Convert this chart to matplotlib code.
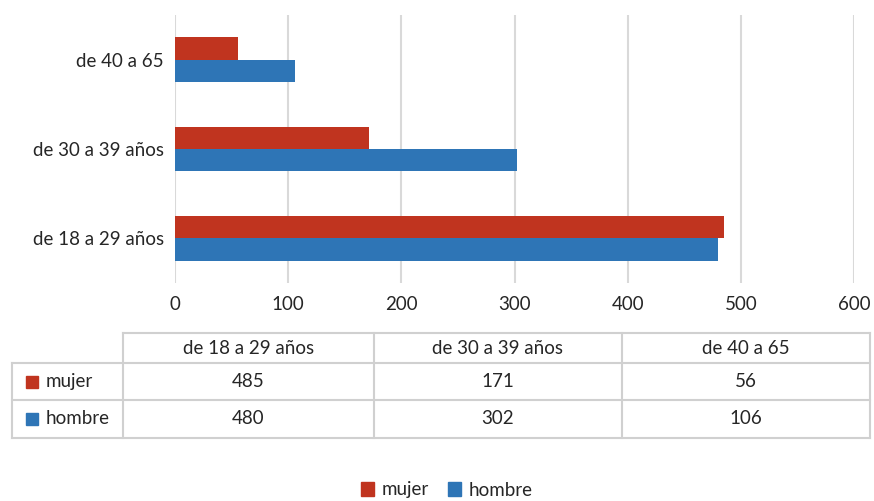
import matplotlib.pyplot as plt
import numpy as np
from matplotlib.patches import Patch

plt.rcParams['font.family'] = ['Lato', 'DejaVu Sans']

categories = ['de 18 a 29 años', 'de 30 a 39 años', 'de 40 a 65']
mujer = [485, 171, 56]
hombre = [480, 302, 106]
series_names = ['mujer', 'hombre']
xticks = [0, 100, 200, 300, 400, 500, 600]

red = '#C0341F'
blue = '#2E75B6'
grid_col = '#D9D9D9'
text_col = '#262626'

fig = plt.figure(figsize=(8.74, 5.01), dpi=100)
ax = fig.add_axes([175 / 874, 1 - 283 / 501, 679 / 874, 268 / 501])

# top category in the chart is the last one in the list
pos = np.arange(len(categories))[::-1]
h = 0.25
ax.barh(pos - h / 2, mujer, height=h, color=red, zorder=3)
ax.barh(pos + h / 2, hombre, height=h, color=blue, zorder=3)
ax.set_ylim(2.5, -0.5)
ax.set_yticks(pos)
ax.set_yticklabels(categories)
ax.set_xlim(0, 600)
ax.set_xticks(xticks)
ax.grid(axis='x', color=grid_col, linewidth=1.5, zorder=0)
for s in ax.spines.values():
    s.set_visible(False)
ax.tick_params(length=0, labelsize=13.5, colors=text_col)
ax.tick_params(axis='y', pad=8)
ax.tick_params(axis='x', pad=9)

# data table underneath, drawn in pixel coordinates
tab = fig.add_axes([0, 0, 1, 1])
tab.set_xlim(0, 874)
tab.set_ylim(501, 0)
tab.axis('off')
lc = '#D0D0D0'
col_x = [123, 374, 622, 870]
row_y = [333, 363, 400, 438]
tab.plot([123, 870], [333, 333], color=lc, lw=1.5)
for y in row_y[1:]:
    tab.plot([12, 870], [y, y], color=lc, lw=1.5)
tab.plot([12, 12], [363, 438], color=lc, lw=1.5)
for x in col_x:
    tab.plot([x, x], [333, 438], color=lc, lw=1.5)

for i, c in enumerate(categories):
    cx = (col_x[i] + col_x[i + 1]) / 2
    tab.text(cx, (row_y[0] + row_y[1]) / 2, c, ha='center', va='center', fontsize=13.5, color=text_col)
    tab.text(cx, (row_y[1] + row_y[2]) / 2, str(mujer[i]), ha='center', va='center', fontsize=13.5, color=text_col)
    tab.text(cx, (row_y[2] + row_y[3]) / 2, str(hombre[i]), ha='center', va='center', fontsize=13.5, color=text_col)

for j, (name, col) in enumerate(zip(series_names, [red, blue])):
    yc = (row_y[j + 1] + row_y[j + 2]) / 2
    tab.add_patch(plt.Rectangle((26, yc - 6), 12, 12, color=col))
    tab.text(46, yc, name, ha='left', va='center', fontsize=13.5, color=text_col)

handles = [Patch(color=red), Patch(color=blue)]
fig.legend(handles, series_names, loc='center', bbox_to_anchor=(447 / 874, 1 - 490 / 501),
           ncol=2, frameon=False, fontsize=13.5, handlelength=0.7, handleheight=0.7,
           handletextpad=0.4, columnspacing=1.0, labelcolor=text_col)

fig.savefig('out.png', dpi=100)
